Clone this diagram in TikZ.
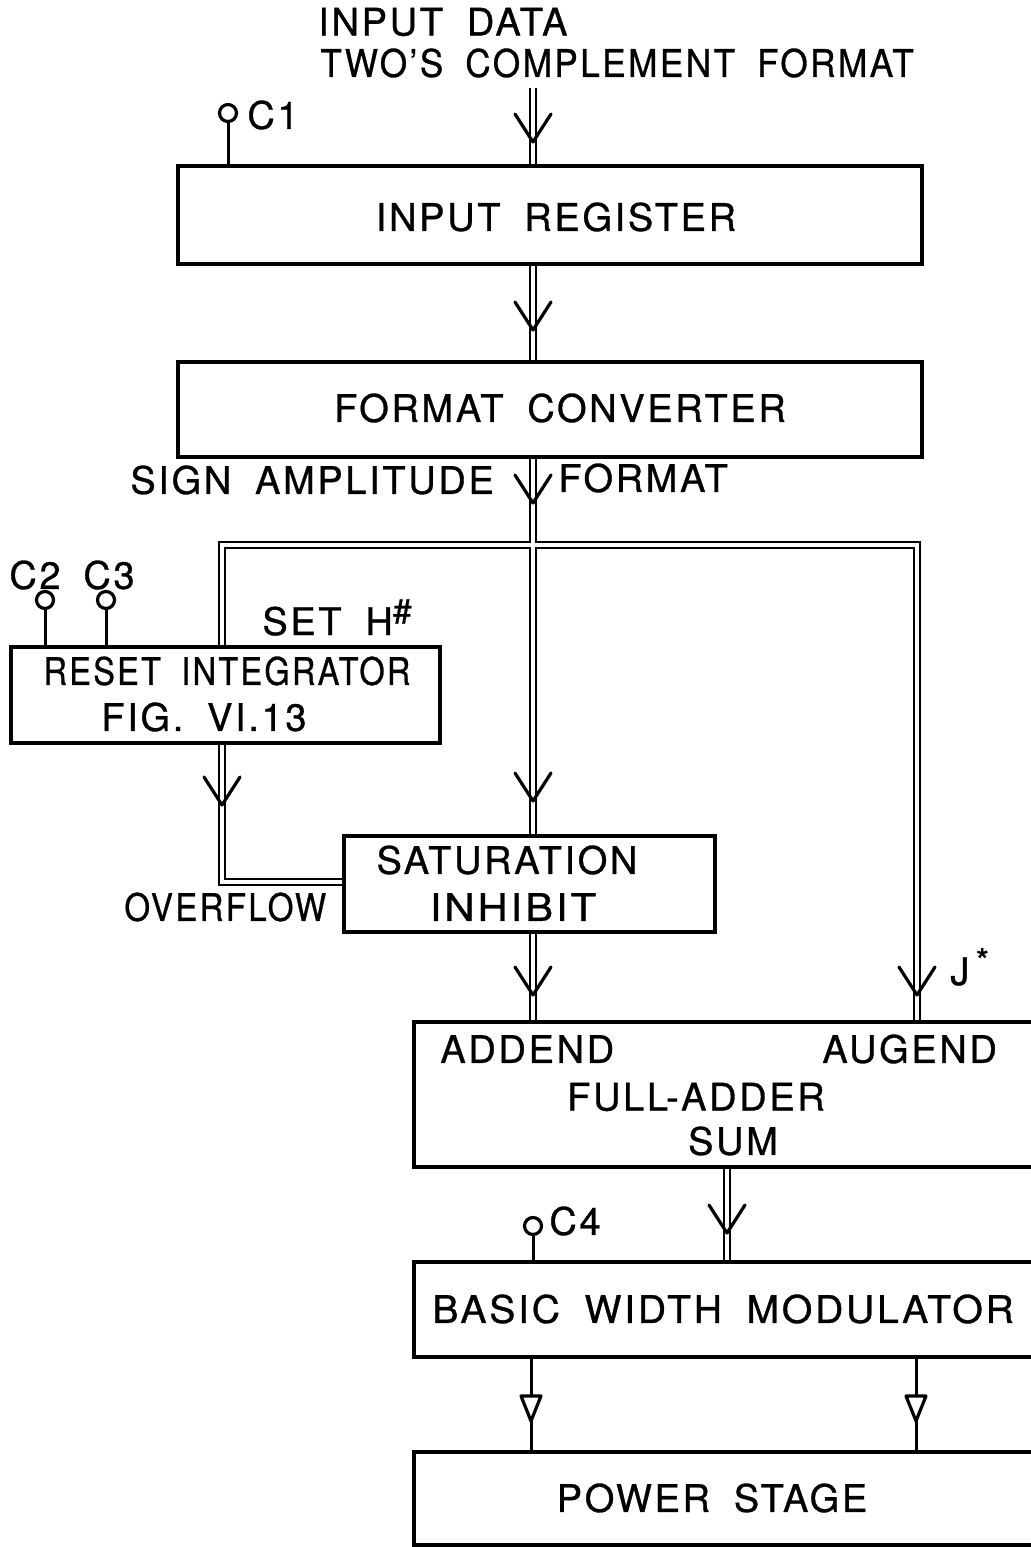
\documentclass[tikz,border=0pt]{standalone}
\usepackage{fontspec}
\usepackage{graphicx}
\setmainfont{TeX Gyre Heros}[LetterSpace=7, WordSpace=1.8, FakeBold=0.8]
\usetikzlibrary{arrows.meta,calc}
\newcommand{\hsq}[2]{\scalebox{#1}[1]{#2}}
\newcommand{\supmark}[1]{\raisebox{6pt}{\fontsize{17}{17}\selectfont #1}}
\tikzset{
  box/.style={draw, line width=1.8pt, rectangle, inner sep=0pt},
  txt/.style={inner sep=0pt, font=\fontsize{19}{22}\selectfont},
  busline/.style={line width=1.8pt, white, line join=miter,
    preaction={draw=black, line width=4.2pt, line join=miter}},
  wire/.style={line width=1.5pt},
  vtip/.pic={\draw[line width=1.6pt, line cap=round, line join=round] (-9pt,14pt) -- (0,0) -- (9pt,14pt);},
  tritip/.pic={\draw[line width=1.6pt, line join=round, fill=white] (-5pt,12.5pt) -- (5pt,12.5pt) -- (0,0) -- cycle;},
  pinc/.style={circle, draw, line width=1.6pt, fill=white, minimum size=8.5pt, inner sep=0pt}
}
\begin{document}
\begin{tikzpicture}[x=0.5pt,y=-0.5pt]
\useasboundingbox (0,0) rectangle (1031,1547);
\clip (0,0) rectangle (1031,1547);

% boxes
\node[box, minimum width=372pt, minimum height=49pt] (ir) at (550,215) {};
\node[box, minimum width=372pt, minimum height=47.5pt] (fc) at (550,409.5) {};
\node[box, minimum width=214.5pt, minimum height=48pt] (ri) at (225.5,695) {};
\node[box, minimum width=185.5pt, minimum height=48pt] (si) at (529.5,884) {};
\node[box, minimum width=315.5pt, minimum height=72.5pt] (fa) at (729.5,1094.5) {};
\node[box, minimum width=315.5pt, minimum height=47.5pt] (bwm) at (729.5,1309.5) {};
\node[box, minimum width=315.5pt, minimum height=46.5pt] (ps) at (729.5,1498.5) {};

% reference coordinates
\coordinate (top) at (533,88);
\coordinate (xm) at (533,0);
\coordinate (xl) at (222,0);
\coordinate (xr) at (917,0);
\coordinate (xo) at (727,0);
\coordinate (jm) at (533,545);
\coordinate (jl) at (222,545);
\coordinate (jr) at (917,545);
\coordinate (ov) at (222,882);
\coordinate (xL) at (531,0);
\coordinate (xR) at (916,0);

% double-line bus
\draw[busline]
  (top) -- (top |- ir.north)
  (ir.south -| xm) -- (fc.north -| xm)
  (fc.south -| xm) -- (jm)
  (jl |- ri.north) -- (jl) -- (jr) -- (jr |- fa.north)
  (jm) -- (jm |- si.north)
  (ri.south -| xl) -- (ov) -- (ov -| si.west)
  (si.south -| xm) -- (fa.north -| xm)
  (fa.south -| xo) -- (bwm.north -| xo);

% V arrowheads
\pic at (533,142) {vtip};
\pic at (533,330) {vtip};
\pic at (533,503) {vtip};
\pic at (222,805) {vtip};
\pic at (533,801) {vtip};
\pic at (533,995) {vtip};
\pic at (917,995) {vtip};
\pic at (727,1233) {vtip};

% single outputs
\draw[wire] (bwm.south -| xL) -- (ps.north -| xL);
\draw[wire] (bwm.south -| xR) -- (ps.north -| xR);
\pic at (531,1421) {tritip};
\pic at (916,1421) {tritip};

% control pins
\node[pinc] (c1) at (228,113) {};
\draw[wire] (c1) -- (c1 |- ir.north);
\node[pinc] (c2) at (45,600) {};
\draw[wire] (c2) -- (c2 |- ri.north);
\node[pinc] (c3) at (106,600) {};
\draw[wire] (c3) -- (c3 |- ri.north);
\node[pinc] (c4) at (533,1226) {};
\draw[wire] (c4) -- (c4 |- bwm.north);

% texts
\node[txt, anchor=west] (t1) at (318,22) {INPUT DATA};
\node[txt, anchor=west] (t2) at (320,63) {\hsq{0.925}{TWO'S COMPLEMENT FORMAT}};
\node[txt, anchor=west] (lc1) at (247,115) {C1};
\node[txt] (tir) at (556,217) {INPUT REGISTER};
\node[txt] (tfc) at (560,408) {FORMAT CONVERTER};
\node[txt, anchor=west] (tsa) at (130,480) {SIGN AMPLITUDE};
\node[txt, anchor=west] (tfm) at (558,478) {FORMAT};
\node[txt] (lc2) at (35,575) {C2};
\node[txt] (lc3) at (109,575) {C3};
\node[txt, anchor=base west] (tsh) at (262,635) {SET H\supmark{\#}};
\node[txt] (tri1) at (227,671) {\hsq{0.855}{RESET INTEGRATOR}};
\node[txt] (tri2) at (204,717) {FIG. VI.13};
\node[txt] (tsi1) at (507,860) {SATURATION};
\node[txt] (tsi2) at (513,907) {\hsq{1.1}{INHIBIT}};
\node[txt, anchor=west] (tov) at (124,907) {\hsq{0.87}{OVERFLOW}};
\node[txt, anchor=base west] (tj) at (950,985) {J\,\supmark{*}};
\node[txt, anchor=west] (tad) at (440,1049) {ADDEND};
\node[txt, anchor=west] (tau) at (822,1049) {AUGEND};
\node[txt] (tfa) at (696,1097) {FULL-ADDER};
\node[txt] (tsum) at (733,1141) {SUM};
\node[txt, anchor=west] (lc4) at (549,1221) {C4};
\node[txt, anchor=west] (tbwm) at (432,1309) {\hsq{1.03}{BASIC WIDTH MODULATOR}};
\node[txt] (tps) at (712,1498) {POWER STAGE};
\end{tikzpicture}
\end{document}
